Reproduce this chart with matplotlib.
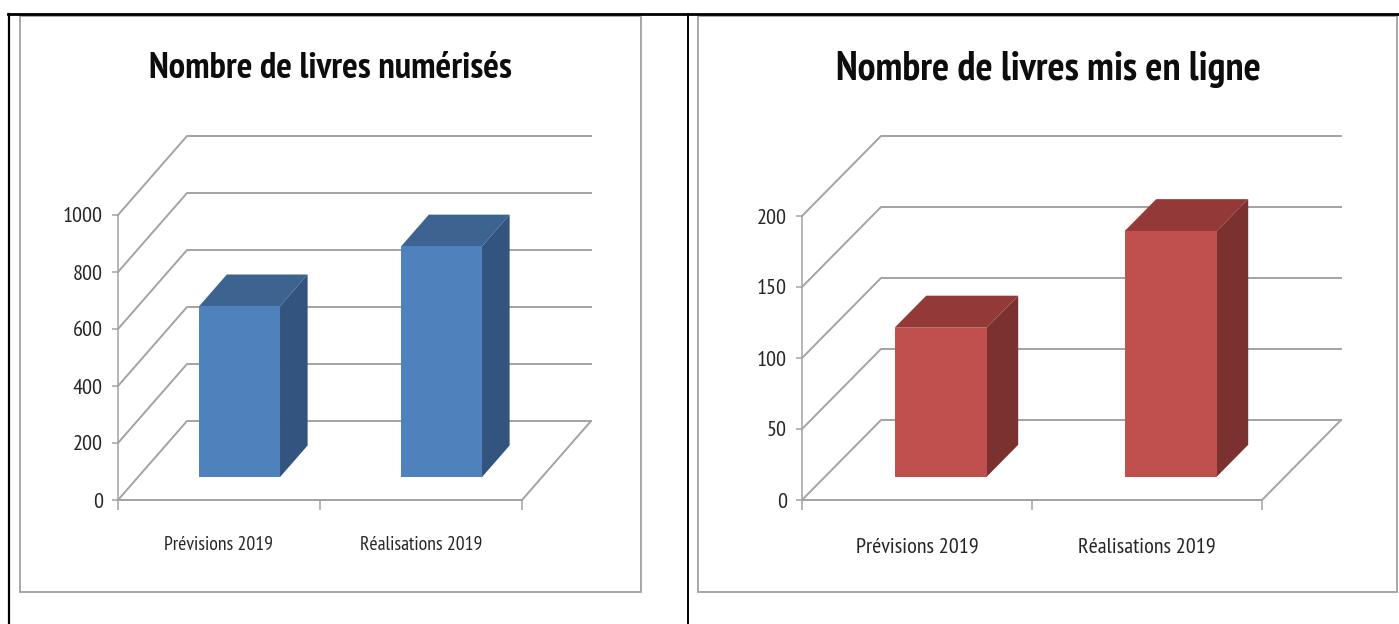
import matplotlib
matplotlib.use("Agg")
from matplotlib import pyplot as plt
from matplotlib.patches import Polygon, Rectangle
from matplotlib.lines import Line2D

W, H = 1399, 624

categories = ["Prévisions 2019", "Réalisations 2019"]

titre_gauche = "Nombre de livres numérisés"
valeurs_gauche = [600, 810]
ticks_gauche = [0, 200, 400, 600, 800, 1000]

titre_droite = "Nombre de livres mis en ligne"
valeurs_droite = [105, 173]
ticks_droite = [0, 50, 100, 150, 200]

plt.rcParams["font.family"] = ["PT Sans Narrow", "Open Sans Condensed", "Liberation Sans", "DejaVu Sans"]

GRIS = "#a3a3a3"
TEXTE = "#262626"

fig = plt.figure(figsize=(W / 100, H / 100), dpi=100)


def px_rect(x0, y0, x1, y1):
    # rectangle en pixels (y vers le bas) -> coordonnées figure
    return [x0 / W, 1 - y1 / H, (x1 - x0) / W, (y1 - y0) / H]


def graphique(x0, x_fin, x_fond, y_fond, y_haut, valeurs, ticks, couleurs, titre, titre_x, fs_titre, fs_cat, cat_y):
    y0 = 500
    vmax = ticks[-1]
    ech_x = (x_fin - x0) / 2
    ech_y = (y0 - y_haut) / vmax
    dx = (x_fond - x0) / ech_x
    dy = (y0 - y_fond) / ech_y

    ax = fig.add_axes(px_rect(x0, y_haut - (y0 - y_fond), x_fin + (x_fond - x0), y0))
    ax.set_xlim(0, 2 + dx)
    ax.set_ylim(0, vmax + dy)
    ax.patch.set_visible(False)

    for s in ("top", "right"):
        ax.spines[s].set_visible(False)
    for s in ("left", "bottom"):
        ax.spines[s].set_color(GRIS)
        ax.spines[s].set_linewidth(1.1)
    ax.spines["left"].set_bounds(0, vmax)
    ax.spines["bottom"].set_bounds(0, 2)

    ax.set_yticks(ticks)
    ax.set_yticklabels([str(t) for t in ticks], fontsize=16, color=TEXTE)
    ax.tick_params(axis="y", length=4, width=1.1, color=GRIS, pad=7)
    ax.set_xticks([0, 1, 2])
    ax.set_xticklabels([])
    ax.tick_params(axis="x", which="major", length=7, width=1.1, color=GRIS)
    ax.set_xticks([0.5, 1.5], minor=True)
    ax.set_xticklabels(categories, minor=True, fontsize=fs_cat, color=TEXTE)
    ax.tick_params(axis="x", which="minor", length=0, pad=cat_y)
    for lab in ax.get_yticklabels():
        lab.set_y(lab.get_position()[1])

    # parois et sol
    for t in ticks:
        ax.plot([0, dx, 2 + dx], [t, t + dy, t + dy], color=GRIS, lw=1.4, clip_on=False, zorder=1)
    ax.plot([2 + dx, 2, 0], [dy, 0, 0], color=GRIS, lw=1.4, clip_on=False, zorder=1)

    # barres en perspective
    d0, d1 = 0.29, 0.69
    for i, v in enumerate(valeurs):
        a, b = i + 0.303, i + 0.703
        ox0, oy0 = d0 * dx, d0 * dy
        ox1, oy1 = d1 * dx, d1 * dy
        face = [(a + ox0, oy0), (b + ox0, oy0), (b + ox0, oy0 + v), (a + ox0, oy0 + v)]
        cote = [(b + ox0, oy0), (b + ox1, oy1), (b + ox1, oy1 + v), (b + ox0, oy0 + v)]
        dessus = [(a + ox0, oy0 + v), (b + ox0, oy0 + v), (b + ox1, oy1 + v), (a + ox1, oy1 + v)]
        ax.add_patch(Polygon(cote, closed=True, fc=couleurs[2], ec="none", zorder=3))
        ax.add_patch(Polygon(dessus, closed=True, fc=couleurs[1], ec="none", zorder=3))
        ax.add_patch(Polygon(face, closed=True, fc=couleurs[0], ec="none", zorder=4))

    fig.text(titre_x / W, 1 - 69 / H, titre, ha="center", va="center", fontsize=fs_titre,
             fontweight="bold", color="#0d0d0d")


graphique(118, 522, 187, 421, 215, valeurs_gauche, ticks_gauche,
          ("#4f81bd", "#3d6491", "#32547e"), titre_gauche, 330, 26.5, 14.2, 26)
graphique(802, 1262, 881, 420, 216, valeurs_droite, ticks_droite,
          ("#c0504d", "#933a38", "#7a312f"), titre_droite, 1048, 29, 16, 27)

# cadres des graphiques
for x0, y0, x1, y1 in [(20, 16, 641, 592), (698, 16, 1397, 592)]:
    fig.add_artist(Rectangle((x0 / W, 1 - y1 / H), (x1 - x0) / W, (y1 - y0) / H, fill=False,
                             ec="#a0a0a0", lw=1.3, transform=fig.transFigure, zorder=0))

# filets noirs du tableau
fig.add_artist(Line2D([8 / W, 1], [1 - 14 / H] * 2, color="black", lw=2))
fig.add_artist(Line2D([8.5 / W] * 2, [0, 1 - 14 / H], color="black", lw=1.6))
fig.add_artist(Line2D([688 / W] * 2, [0, 1 - 14 / H], color="black", lw=1.4))

fig.savefig("out.png", dpi=100)
